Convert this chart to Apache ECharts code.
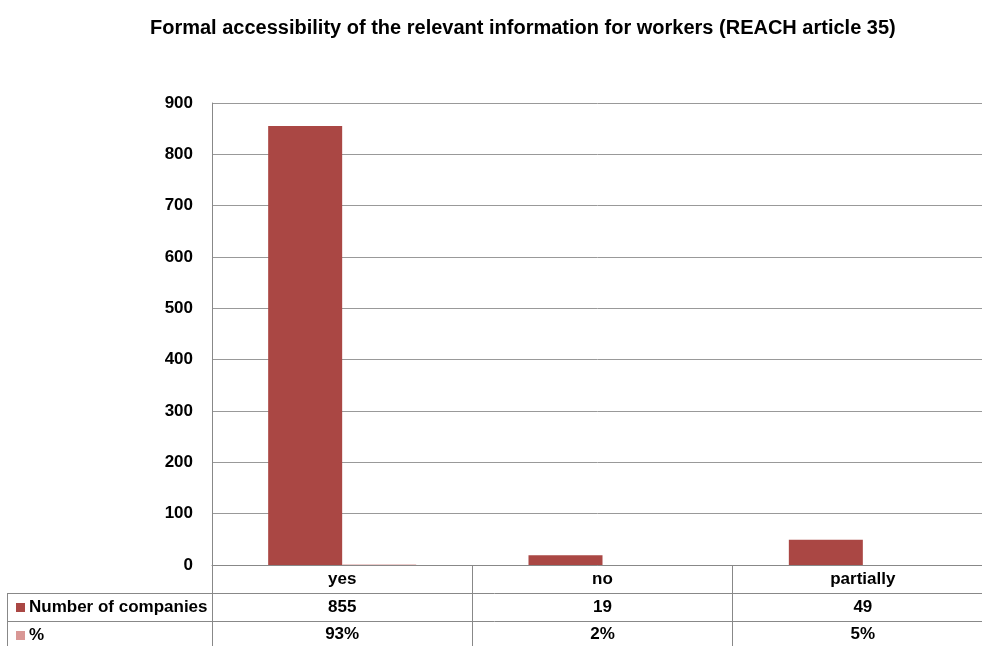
<!DOCTYPE html>
<html><head><meta charset="utf-8">
<script src="https://cdn.jsdelivr.net/npm/echarts@6/dist/echarts.min.js"></script>
<style>html,body{margin:0;padding:0;background:#fff}#c{width:982px;height:646px}</style>
</head><body><div id="c"></div>
<script>
const categories = ['yes', 'no', 'partially'];
const companies = [855, 19, 49];
const percent = [0.93, 0.02, 0.05];
const yTicks = [0, 100, 200, 300, 400, 500, 600, 700, 800, 900];
const seriesNames = ['Number of companies', '%'];

const FONT = 'Liberation Sans';
const chart = echarts.init(document.getElementById('c'));
const pctLabel = v => Math.round(v * 100) + '%';
const lblStyle = {color: '#000', fontFamily: FONT, fontWeight: 'bold', fontSize: 17};
const legendBase = {
  orient: 'vertical', left: 11, itemWidth: 9, itemHeight: 9, icon: 'rect', itemGap: 0,
  textStyle: {fontFamily: FONT, fontWeight: 'bold', fontSize: 17, color: '#000', padding: [0, 0, 0, -1]}
};

chart.setOption({
  animation: false,
  title: {
    text: 'Formal accessibility of the relevant information for workers (REACH article 35)',
    left: 145, top: 13,
    textStyle: {fontFamily: FONT, fontWeight: 'bold', fontSize: 20, color: '#000'}
  },
  legend: [
    Object.assign({top: 594, data: [seriesNames[0]]}, legendBase),
    Object.assign({top: 622, data: [seriesNames[1]]}, legendBase)
  ],
  grid: {left: 212, top: 103, width: 781, height: 462, outerBoundsMode: 'none', containLabel: false},
  yAxis: {
    type: 'value', min: yTicks[0], max: yTicks[yTicks.length - 1], interval: 100,
    axisLine: {show: true, lineStyle: {color: '#888'}},
    axisTick: {show: false},
    axisLabel: Object.assign({margin: 19}, lblStyle),
    splitLine: {lineStyle: {color: '#999'}}
  },
  xAxis: [
    {
      type: 'category', data: categories, position: 'bottom',
      axisLine: {lineStyle: {color: '#888'}},
      axisTick: {show: true, length: 81, lineStyle: {color: '#888'}},
      axisLabel: Object.assign({margin: 6}, lblStyle)
    },
    {
      type: 'category', data: companies.map(String), position: 'bottom', offset: 28,
      axisLine: {show: false}, axisTick: {show: false},
      axisLabel: Object.assign({margin: 6}, lblStyle)
    },
    {
      type: 'category', data: percent.map(pctLabel), position: 'bottom', offset: 56,
      axisLine: {show: false}, axisTick: {show: false},
      axisLabel: Object.assign({margin: 5}, lblStyle)
    }
  ],
  graphic: [
    {type: 'line', shape: {x1: 7, y1: 593.5, x2: 982, y2: 593.5}, style: {stroke: '#888', lineWidth: 1}},
    {type: 'line', shape: {x1: 7, y1: 621.5, x2: 982, y2: 621.5}, style: {stroke: '#888', lineWidth: 1}},
    {type: 'line', shape: {x1: 7.5, y1: 593, x2: 7.5, y2: 646}, style: {stroke: '#888', lineWidth: 1}}
  ],
  series: [
    {name: seriesNames[0], type: 'bar', data: companies, barWidth: 74, barGap: '0%',
     itemStyle: {color: '#AA4744'}},
    {name: seriesNames[1], type: 'bar', data: percent, barWidth: 74,
     itemStyle: {color: '#D99795'}}
  ]
});
</script></body></html>
